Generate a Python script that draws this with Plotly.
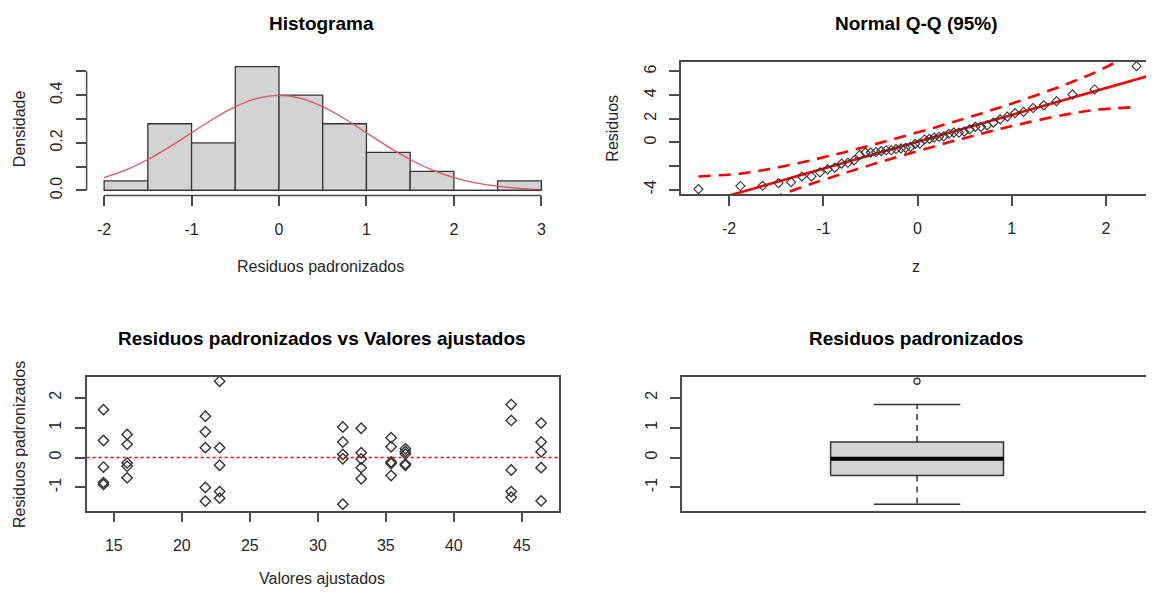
import numpy as np
import plotly.graph_objects as go

# ---------------- data ----------------
# Histogram of standardized residuals (density scale)
hist_breaks = [-2.0, -1.5, -1.0, -0.5, 0.0, 0.5, 1.0, 1.5, 2.0, 2.5, 3.0]
hist_density = [0.04, 0.28, 0.20, 0.52, 0.40, 0.28, 0.16, 0.08, 0.00, 0.04]
hist_xticks = [-2, -1, 0, 1, 2, 3]
hist_yticks = [0.0, 0.1, 0.2, 0.3, 0.4, 0.5]
hist_ytext = ["0.0", "", "0.2", "", "0.4", ""]

# normal density curve
curve_x = [-2.0, -1.75, -1.5, -1.25, -1.0, -0.75, -0.5, -0.25, 0.0, 0.25, 0.5,
           0.75, 1.0, 1.25, 1.5, 1.75, 2.0, 2.25, 2.5, 2.75, 3.0]
curve_y = [0.054, 0.086, 0.130, 0.183, 0.242, 0.301, 0.352, 0.387, 0.399, 0.387, 0.352,
           0.301, 0.242, 0.183, 0.130, 0.086, 0.054, 0.032, 0.018, 0.009, 0.004]

# Normal Q-Q plot
qq_z = [-2.326, -1.881, -1.645, -1.476, -1.341, -1.227, -1.126, -1.036, -0.954, -0.878,
        -0.806, -0.739, -0.674, -0.613, -0.553, -0.496, -0.440, -0.385, -0.332, -0.279,
        -0.228, -0.176, -0.126, -0.075, -0.025, 0.025, 0.075, 0.126, 0.176, 0.228,
        0.279, 0.332, 0.385, 0.440, 0.496, 0.553, 0.613, 0.674, 0.739, 0.806,
        0.878, 0.954, 1.036, 1.126, 1.227, 1.341, 1.476, 1.645, 1.881, 2.326]
qq_residuos = [-3.95, -3.69, -3.67, -3.44, -3.36, -2.88, -2.88, -2.53, -2.28, -2.13,
               -1.80, -1.72, -1.52, -1.06, -0.86, -0.86, -0.81, -0.73, -0.66, -0.66,
               -0.56, -0.51, -0.46, -0.38, -0.13, -0.10, 0.25, 0.30, 0.40, 0.48,
               0.51, 0.73, 0.83, 0.83, 0.91, 1.11, 1.32, 1.32, 1.44, 1.67,
               1.95, 2.18, 2.48, 2.58, 2.91, 3.14, 3.49, 4.05, 4.48, 6.45]
qq_intercepto = 0.056
qq_inclinacao = 2.273
env_z = [-2.326, -1.881, -1.645, -1.476, -1.126, -0.806, -0.496, -0.176,
         0.176, 0.496, 0.806, 1.126, 1.476, 1.645, 1.881, 2.326]
env_sup = [-2.88, -2.64, -2.35, -2.10, -1.50, -0.89, -0.25, 0.45,
           1.25, 2.01, 2.78, 3.62, 4.61, 5.13, 5.91, 7.69]
env_inf = [-7.58, -5.80, -5.01, -4.50, -3.50, -2.67, -1.90, -1.14,
           -0.34, 0.36, 1.00, 1.61, 2.21, 2.46, 2.75, 2.99]
qq_xticks = [-2, -1, 0, 1, 2]
qq_yticks = [-4, -2, 0, 2, 4, 6]
qq_ytext = ["-4", "", "0", "2", "4", "6"]

# Standardized residuals vs fitted values
valores_ajustados = [14.24, 15.98, 21.73, 22.78, 31.84, 33.19, 35.39, 36.44, 44.22, 46.42]
residuos_pad = [
    [1.60, 0.57, -0.32, -0.84, -0.90],
    [0.77, 0.44, -0.18, -0.29, -0.68],
    [1.38, 0.86, 0.33, -1.00, -1.46],
    [2.55, 0.33, -0.26, -1.14, -1.36],
    [1.02, 0.52, 0.10, -0.04, -1.56],
    [0.98, 0.16, -0.05, -0.34, -0.71],
    [0.66, 0.36, -0.15, -0.20, -0.60],
    [0.29, 0.20, 0.12, -0.22, -0.26],
    [1.77, 1.24, -0.42, -1.14, -1.33],
    [1.15, 0.52, 0.19, -0.34, -1.45],
]
sc_xticks = [15, 20, 25, 30, 35, 40, 45]
res_yticks = [-1, 0, 1, 2]

# ---------------- helpers ----------------
# page body keeps an 8px margin, so the figure is shifted by (8, 8) in the window
OFF = 8
W, H = 1154 - OFF, 595 - OFF
FONT = "Arial, Liberation Sans, sans-serif"
AXC = "#4a4a4a"
TXT = "#262626"


def dom_x(a, b):
    return [max(0, (a - OFF) / W), min(1, (b - OFF) / W)]


def dom_y(top, bottom):
    return [1 - (bottom - OFF) / H, 1 - (top - OFF) / H]


def labels(vals):
    return [f"{v:g}" for v in vals]


def base_axis(**kw):
    d = dict(showgrid=False, zeroline=False, ticks="outside", ticklen=10,
             tickwidth=1.5, tickcolor=AXC, linecolor=AXC, linewidth=1.5,
             tickfont=dict(size=16, color=TXT, family=FONT), ticklabelstandoff=9)
    d.update(kw)
    return d


def y_axis(**kw):
    d = dict(tickangle=-90, ticklabelstandoff=7)
    d.update(kw)
    return base_axis(**d)


fig = go.Figure()

# ---------------- histogram ----------------
br = np.array(hist_breaks)
centers = (br[:-1] + br[1:]) / 2
widths = br[1:] - br[:-1]
fig.add_trace(go.Bar(x=centers, y=hist_density, width=widths,
                     marker=dict(color="#D3D3D3", line=dict(color="#333333", width=1.3)),
                     xaxis="x", yaxis="y", hoverinfo="skip"))
fig.add_trace(go.Scatter(x=curve_x, y=curve_y, mode="lines", line_shape="spline",
                         line=dict(color="#DF536B", width=1.3), xaxis="x", yaxis="y"))

# ---------------- QQ plot ----------------
qx_range = [-2.51, 2.49]
fig.add_trace(go.Scatter(x=env_z, y=env_sup, mode="lines", line_shape="spline",
                         line=dict(color="#FF0000", width=2.6, dash="12px,8px"),
                         xaxis="x2", yaxis="y2"))
fig.add_trace(go.Scatter(x=env_z, y=env_inf, mode="lines", line_shape="spline",
                         line=dict(color="#FF0000", width=2.6, dash="12px,8px"),
                         xaxis="x2", yaxis="y2"))
lx = np.array(qx_range)
fig.add_trace(go.Scatter(x=lx, y=qq_intercepto + qq_inclinacao * lx, mode="lines",
                         line=dict(color="#FF0000", width=2.6), xaxis="x2", yaxis="y2"))
fig.add_trace(go.Scatter(x=qq_z, y=qq_residuos, mode="markers",
                         marker=dict(symbol="diamond-open", size=7, color="#333333",
                                     line=dict(width=1.1, color="#333333")),
                         xaxis="x2", yaxis="y2", cliponaxis=False))

# ---------------- residuals vs fitted ----------------
fx = np.repeat(valores_ajustados, [len(g) for g in residuos_pad])
fy = np.concatenate([np.array(g) for g in residuos_pad])
fig.add_trace(go.Scatter(x=fx, y=fy, mode="markers",
                         marker=dict(symbol="diamond-open", size=8, color="#333333",
                                     line=dict(width=1.4, color="#333333")),
                         xaxis="x3", yaxis="y3"))

# ---------------- boxplot ----------------
srt = np.sort(fy)
n = len(srt)
n4 = np.floor((n + 3) / 2) / 2
d = np.array([1, n4, (n + 1) / 2, n + 1 - n4, n])
five = 0.5 * (srt[np.floor(d).astype(int) - 1] + srt[np.ceil(d).astype(int) - 1])
q1, med, q3 = five[1], five[2], five[3]
iqr = q3 - q1
inside = srt[(srt >= q1 - 1.5 * iqr) & (srt <= q3 + 1.5 * iqr)]
wlo, whi = inside.min(), inside.max()
outl = srt[(srt < q1 - 1.5 * iqr) | (srt > q3 + 1.5 * iqr)]
c, hw = 1.0, 0.184
bc = "#333333"
fig.add_trace(go.Scatter(x=[c, c], y=[q3, whi], mode="lines",
                         line=dict(color=bc, width=1.5, dash="6px,5px"), xaxis="x4", yaxis="y4"))
fig.add_trace(go.Scatter(x=[c, c], y=[q1, wlo], mode="lines",
                         line=dict(color=bc, width=1.5, dash="6px,5px"), xaxis="x4", yaxis="y4"))
for wv in (whi, wlo):
    fig.add_trace(go.Scatter(x=[c - hw / 2, c + hw / 2], y=[wv, wv], mode="lines",
                             line=dict(color=bc, width=1.5), xaxis="x4", yaxis="y4"))
fig.add_trace(go.Scatter(x=[c - hw, c + hw, c + hw, c - hw, c - hw], y=[q1, q1, q3, q3, q1],
                         mode="lines", fill="toself", fillcolor="#D3D3D3",
                         line=dict(color=bc, width=1.5), xaxis="x4", yaxis="y4"))
fig.add_trace(go.Scatter(x=[c - hw, c + hw], y=[med, med], mode="lines",
                         line=dict(color="#000000", width=4), xaxis="x4", yaxis="y4"))
fig.add_trace(go.Scatter(x=np.full(len(outl), c), y=outl, mode="markers",
                         marker=dict(symbol="circle-open", size=6, color=bc,
                                     line=dict(width=1.3, color=bc)),
                         xaxis="x4", yaxis="y4"))

# ---------------- layout ----------------
res_range = [-1.774, 2.70]
layout = dict(
    width=W, height=H, margin=dict(l=0, r=0, t=0, b=0),
    paper_bgcolor="white", plot_bgcolor="white", showlegend=False,
    font=dict(family=FONT, size=16, color=TXT),
    xaxis=base_axis(domain=dom_x(86.7, 559.3), range=[-2.2, 3.2], tickvals=hist_xticks,
                    ticktext=labels(hist_xticks), showline=False, anchor="y"),
    yaxis=y_axis(domain=dom_y(62, 196.7), range=[-0.0208, 0.5408], tickvals=hist_yticks,
                 ticktext=hist_ytext, showline=False, anchor="x"),
    xaxis2=base_axis(domain=dom_x(681.7, 1153), range=qx_range, tickvals=qq_xticks,
                     ticktext=labels(qq_xticks), showline=True, mirror=True, anchor="y2"),
    yaxis2=y_axis(domain=dom_y(62.3, 195.7), range=[-4.40, 6.81], tickvals=qq_yticks,
                  ticktext=qq_ytext, showline=True, mirror=True, anchor="x2"),
    xaxis3=base_axis(domain=dom_x(86.7, 559.3), range=[13.0, 47.72], tickvals=sc_xticks,
                     ticktext=labels(sc_xticks), showline=True, mirror=True, anchor="y3"),
    yaxis3=y_axis(domain=dom_y(379.3, 514), range=res_range, tickvals=res_yticks,
                  ticktext=labels(res_yticks), showline=True, mirror=True, anchor="x3"),
    xaxis4=base_axis(domain=dom_x(682.7, 1153), range=[0.5, 1.5], ticks="",
                     showticklabels=False, showline=True, mirror=True, anchor="y4"),
    yaxis4=y_axis(domain=dom_y(379.3, 514), range=res_range, tickvals=res_yticks,
                  ticktext=labels(res_yticks), showline=True, mirror=True, anchor="x4"),
)

shapes = [
    dict(type="line", xref="x", yref="y domain", x0=hist_breaks[0], x1=hist_breaks[-1],
         y0=0, y1=0, line=dict(color=AXC, width=1.5)),
    dict(type="line", xref="x domain", yref="y", x0=0, x1=0, y0=hist_yticks[0],
         y1=hist_yticks[-1], line=dict(color=AXC, width=1.5)),
    dict(type="line", xref="x", yref="y", x0=hist_breaks[0], x1=hist_breaks[-1],
         y0=0, y1=0, line=dict(color="#333333", width=1.3)),
    dict(type="line", xref="x3 domain", yref="y3", x0=0, x1=1, y0=0, y1=0,
         line=dict(color="#FF0000", width=1.6, dash="dot")),
]
layout["shapes"] = shapes


def ann(text, x, y, size=16, bold=False, angle=0, color=TXT):
    return dict(text=f"<b>{text}</b>" if bold else text, x=(x - OFF) / W, y=1 - (y - OFF) / H,
                xref="paper", yref="paper", xanchor="center", yanchor="middle",
                showarrow=False, textangle=angle,
                font=dict(size=size, color=color, family=FONT))


layout["annotations"] = [
    ann("Histograma", 322, 24, size=19, bold=True, color="#000"),
    ann("Normal Q-Q (95%)", 917, 24, size=19, bold=True, color="#000"),
    ann("Residuos padronizados vs Valores ajustados", 322, 341, size=19, bold=True, color="#000"),
    ann("Residuos padronizados", 917, 341, size=19, bold=True, color="#000"),
    ann("Residuos padronizados", 321, 268),
    ann("z", 917, 268),
    ann("Valores ajustados", 322, 582),
    ann("Densidade", 19, 129, angle=-90),
    ann("Residuos", 613, 129, angle=-90),
    ann("Residuos padronizados", 19, 447, angle=-90),
]

fig.update_layout(**layout)
fig.write_html("out.html")
